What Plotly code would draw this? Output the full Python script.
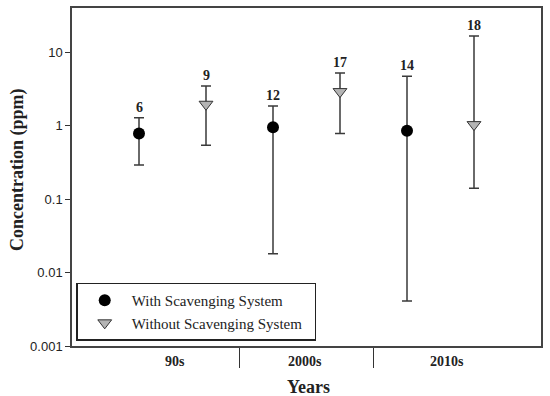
import math
import plotly.graph_objects as go

decades = ["90s", "2000s", "2010s"]
with_vals = [0.78, 0.95, 0.85]
with_upper = [1.28, 1.85, 4.7]
with_lower = [0.29, 0.018, 0.0041]
with_n = [6, 12, 14]

without_vals = [1.95, 2.9, 1.03]
without_upper = [3.45, 5.2, 16.5]
without_lower = [0.54, 0.78, 0.14]
without_n = [9, 17, 18]

x_with = [1, 3, 5]
x_without = [2, 4, 6]
label_x = [1.53, 3.48, 5.6]

serif = "Liberation Serif, Times New Roman, serif"
sans = "Liberation Sans, Arial, sans-serif"

W, H = 550, 396
L, R, T, B = 72, 9, 8, 50
pw, ph = W - L - R, H - T - B

fig = go.Figure()
fig.add_trace(go.Scatter(
    x=x_with, y=with_vals, mode="markers", name="With Scavenging System&nbsp;&nbsp;",
    marker=dict(symbol="circle", size=12, color="black", line=dict(color="black", width=0)),
    error_y=dict(type="data", symmetric=False,
                 array=[u - v for u, v in zip(with_upper, with_vals)],
                 arrayminus=[v - l for v, l in zip(with_vals, with_lower)],
                 color="#3a3a3a", thickness=1.5, width=5),
))
fig.add_trace(go.Scatter(
    x=x_without, y=without_vals, mode="markers", name="Without Scavenging System&nbsp;&nbsp;",
    marker=dict(symbol="triangle-down", size=12, color="#b4b4b4", line=dict(color="#333", width=1)),
    error_y=dict(type="data", symmetric=False,
                 array=[u - v for u, v in zip(without_upper, without_vals)],
                 arrayminus=[v - l for v, l in zip(without_vals, without_lower)],
                 color="#3a3a3a", thickness=1.5, width=5),
))

annotations = []
for xs, ups, ns in [(x_with, with_upper, with_n), (x_without, without_upper, without_n)]:
    for x, u, n in zip(xs, ups, ns):
        annotations.append(dict(x=x, y=math.log10(u), text=f"<b>{n}</b>", showarrow=False,
                                yanchor="bottom", yshift=1, font=dict(family=serif, size=14, color="#222")))
for lx, d in zip(label_x, decades):
    annotations.append(dict(x=lx, y=0, xref="x", yref="paper", text=f"<b>{d}</b>", showarrow=False,
                            yanchor="top", yshift=-6, font=dict(family=serif, size=14, color="#222")))
annotations.append(dict(x=(308 - L) / pw, y=(H - B - 387) / ph, xref="paper", yref="paper",
                        text="<b>Years</b>", showarrow=False, xanchor="center", yanchor="middle",
                        font=dict(family=serif, size=18, color="#222")))
annotations.append(dict(x=(17 - L) / pw, y=(H - B - 170) / ph, xref="paper", yref="paper",
                        text="<b>Concentration (ppm)</b>", showarrow=False, textangle=-90,
                        xanchor="center", yanchor="middle",
                        font=dict(family=serif, size=18, color="#222")))

fig.update_layout(
    width=W, height=H,
    margin=dict(l=L, r=R, t=T, b=B, autoexpand=False),
    paper_bgcolor="white", plot_bgcolor="white",
    showlegend=True,
    legend=dict(x=0.009, y=0.016, xanchor="left", yanchor="bottom",
                bordercolor="#222", borderwidth=1.5, bgcolor="white",
                font=dict(family=serif, size=15, color="#222"),
                tracegroupgap=0, itemwidth=44),
    annotations=annotations,
    xaxis=dict(range=[0, 7], tickvals=[2.5, 4.5], ticktext=["", ""], ticks="outside",
               ticklen=20, tickwidth=1.2, tickcolor="#333", showgrid=False, zeroline=False,
               showline=True, linecolor="#444", linewidth=1.5, mirror=True, automargin=False),
    yaxis=dict(type="log", range=[-3, 1.6], tickvals=[0.001, 0.01, 0.1, 1, 10],
               ticktext=["0.001", "0.01", "0.1", "1", "10"], ticks="outside", ticklen=5,
               tickcolor="#333", tickfont=dict(family=sans, size=13, color="#222"),
               showgrid=False, zeroline=False, showline=True, linecolor="#444", linewidth=1.5,
               mirror=True, automargin=False),
)

fig.write_html("out.html", config={"displayModeBar": False},
               post_script="document.body.style.margin='0';document.body.style.overflow='hidden';")
